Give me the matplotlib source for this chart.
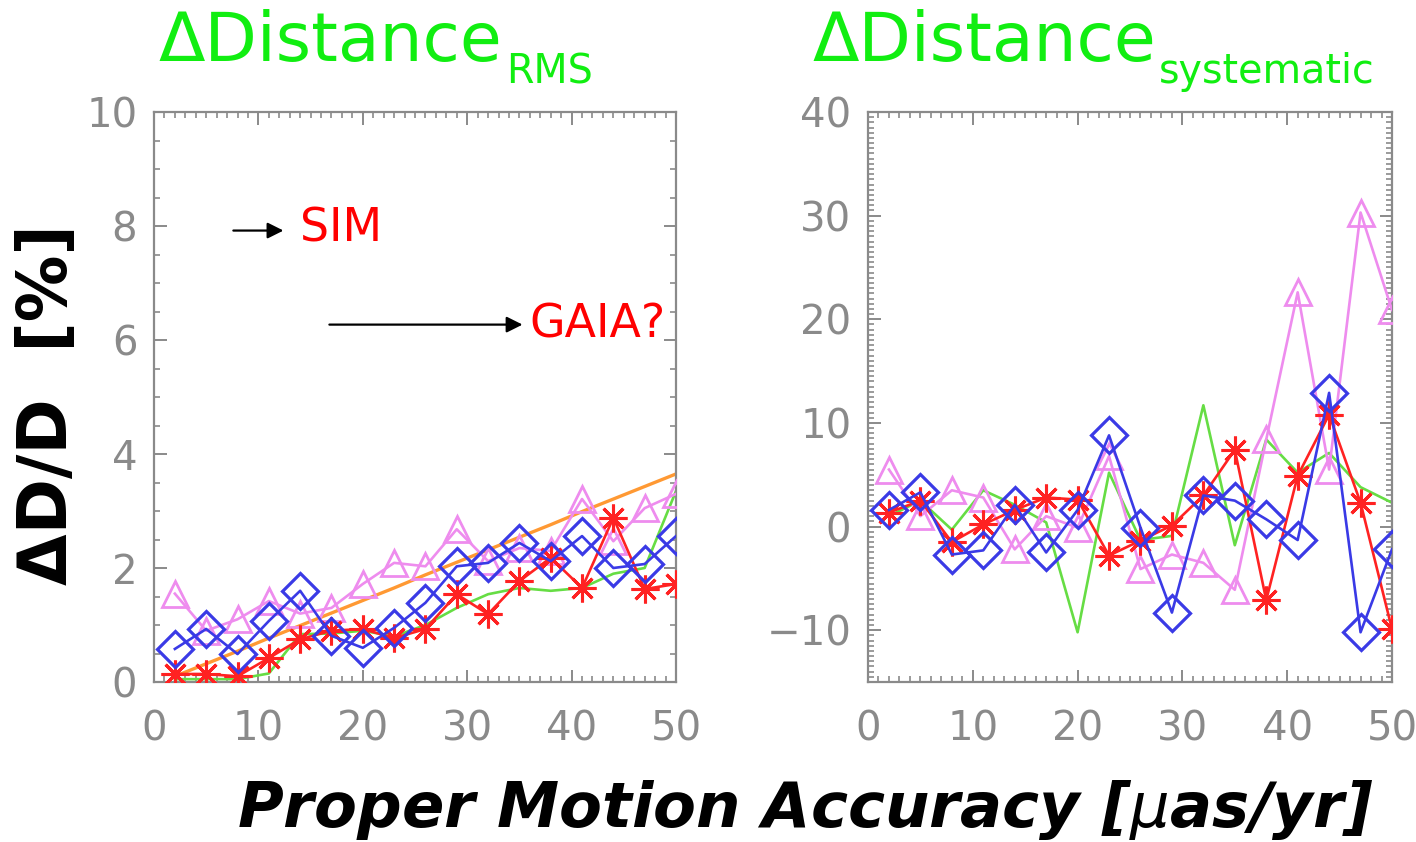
import matplotlib
matplotlib.use("Agg")
import matplotlib.pyplot as plt
from matplotlib.ticker import MultipleLocator

# ---------------- data ----------------
x_acc = [2, 5, 8, 11, 14, 17, 20, 23, 26, 29, 32, 35, 38, 41, 44, 47, 50]

# Left panel: RMS distance error [%]
rms_blue   = [0.58, 0.93, 0.49, 1.07, 1.60, 0.81, 0.60, 0.95, 1.39, 2.03, 2.09, 2.44, 2.12, 2.56, 2.00, 2.07, 2.56]
rms_pink   = [1.55, 0.90, 1.10, 1.42, 1.20, 1.30, 1.72, 2.09, 2.03, 2.68, 2.12, 2.35, 2.30, 3.21, 2.47, 3.05, 3.30]
rms_red    = [0.14, 0.14, 0.10, 0.42, 0.75, 0.90, 0.93, 0.77, 0.93, 1.54, 1.19, 1.77, 2.18, 1.65, 2.88, 1.63, 1.72]
rms_green  = [0.05, 0.05, 0.05, 0.15, 0.84, 0.85, 0.90, 0.80, 1.00, 1.30, 1.54, 1.65, 1.60, 1.65, 1.90, 2.00, 3.35]
rms_orange = [0.10, 0.32, 0.54, 0.77, 0.99, 1.21, 1.43, 1.65, 1.88, 2.10, 2.32, 2.54, 2.76, 2.99, 3.21, 3.43, 3.65]

# Right panel: systematic distance error [%]
sys_blue  = [1.6, 3.3, -2.7, -2.3, 2.1, -2.5, 1.6, 8.8, -0.1, -8.3, 3.0, 2.5, 0.7, -1.3, 12.9, -10.2, -2.2]
sys_pink  = [5.5, 1.0, 3.5, 2.8, -2.2, 1.0, -0.1, 6.8, -4.1, -2.7, -3.5, -6.1, 8.4, 22.6, 5.5, 30.3, 20.9]
sys_red   = [1.35, 2.5, -1.5, 0.2, 1.6, 2.8, 2.6, -2.8, -1.35, 0.1, 3.0, 7.4, -7.1, 4.9, 10.8, 2.3, -9.9]
sys_green = [1.0, 2.5, -0.3, 3.5, 2.1, 0.4, -10.2, 5.2, -1.3, -0.9, 11.7, -1.8, 8.4, 5.2, 7.1, 3.8, 2.3]

left_yticks = [0, 2, 4, 6, 8, 10]
right_yticks = [-10, 0, 10, 20, 30, 40]
right_yticklabels = ["\u221210", "0", "10", "20", "30", "40"]
xticks = [0, 10, 20, 30, 40, 50]

# ---------------- style ----------------
C_BLUE = "#3a3ae6"
C_PINK = "#ee8cee"
C_RED = "#ff2222"
C_GREEN = "#66dd44"
C_ORANGE = "#ff9933"
C_AX = "#8a8a8a"
C_TITLE = "#11ee11"

fig = plt.figure(figsize=(14.16, 8.42), dpi=100)
fig.patch.set_facecolor("white")

axL = fig.add_axes([154/1416, 1-682/842, 522/1416, 570/842])
axR = fig.add_axes([868/1416, 1-682/842, 524/1416, 570/842])

star = (8, 2, 0)


def style_axes(ax, ylim, yticks, yminor):
    ax.set_xlim(0, 50)
    ax.set_ylim(*ylim)
    ax.set_xticks(xticks)
    ax.set_yticks(yticks)
    ax.xaxis.set_minor_locator(MultipleLocator(1))
    ax.yaxis.set_minor_locator(MultipleLocator(yminor))
    for s in ax.spines.values():
        s.set_color(C_AX)
        s.set_linewidth(1.6)
    ax.tick_params(which="both", direction="in", top=True, right=True, color=C_AX)
    ax.tick_params(which="major", length=9, width=1.4, labelsize=29, labelcolor=C_AX)
    ax.tick_params(which="minor", length=4, width=1.2)
    ax.tick_params(axis="x", which="major", pad=20)
    ax.tick_params(axis="y", which="major", pad=12)


lw = 1.9
# Left panel
axL.plot(x_acc, rms_green, color=C_GREEN, lw=lw, zorder=2)
axL.plot(x_acc, rms_orange, color=C_ORANGE, lw=2.4, zorder=2)
axL.plot(x_acc, rms_pink, color=C_PINK, lw=lw, marker="^", ms=19, mfc="none", mew=2.0, zorder=3)
axL.plot(x_acc, rms_red, color=C_RED, lw=lw, marker=star, ms=20, mew=2.2, zorder=4)
axL.plot(x_acc, rms_blue, color=C_BLUE, lw=lw, marker="D", ms=18, mfc="none", mew=2.3, zorder=5)
style_axes(axL, (0, 10), left_yticks, 0.5)

# Right panel
axR.plot(x_acc, sys_green, color=C_GREEN, lw=lw, zorder=2)
axR.plot(x_acc, sys_pink, color=C_PINK, lw=lw, marker="^", ms=19, mfc="none", mew=2.0, zorder=3)
axR.plot(x_acc, sys_red, color=C_RED, lw=lw, marker=star, ms=20, mew=2.2, zorder=4)
axR.plot(x_acc, sys_blue, color=C_BLUE, lw=lw, marker="D", ms=18, mfc="none", mew=2.3, zorder=5)
style_axes(axR, (-15, 40), right_yticks, 0.5)
axR.set_yticklabels(right_yticklabels)

# Annotations on left panel
arrow = dict(arrowstyle="-|>", color="black", lw=1.6, mutation_scale=24, shrinkA=0, shrinkB=0)
axL.annotate("", xy=(12.4, 7.92), xytext=(7.6, 7.92), arrowprops=arrow)
axL.text(14.0, 7.95, "SIM", color="red", fontsize=33, va="center", ha="left")
axL.annotate("", xy=(35.3, 6.27), xytext=(16.8, 6.27), arrowprops=arrow)
axL.text(36.0, 6.27, "GAIA?", color="red", fontsize=33, va="center", ha="left")

# Titles
fig.text(158/1416, 1-61/842, "\u0394Distance", color=C_TITLE, fontsize=49, ha="left", va="baseline")
fig.text(506/1416, 1-83/842, "RMS", color=C_TITLE, fontsize=28.5, ha="left", va="baseline")
fig.text(812/1416, 1-61/842, "\u0394Distance", color=C_TITLE, fontsize=49, ha="left", va="baseline")
fig.text(1159/1416, 1-83/842, "systematic", color=C_TITLE, fontsize=28.5, ha="left", va="baseline")

# Axis labels
fig.text(48/1416, 1-405/842, "\u0394D/D  [%]", fontsize=48, fontweight="bold", rotation=90,
         ha="center", va="center", color="black")
fig.text(805/1416, 1-827/842, r"Proper Motion Accuracy [$\mu$as/yr]", fontsize=45,
         fontweight="bold", fontstyle="italic", ha="center", va="baseline", color="black")

fig.savefig("out.png", dpi=100, facecolor="white")
